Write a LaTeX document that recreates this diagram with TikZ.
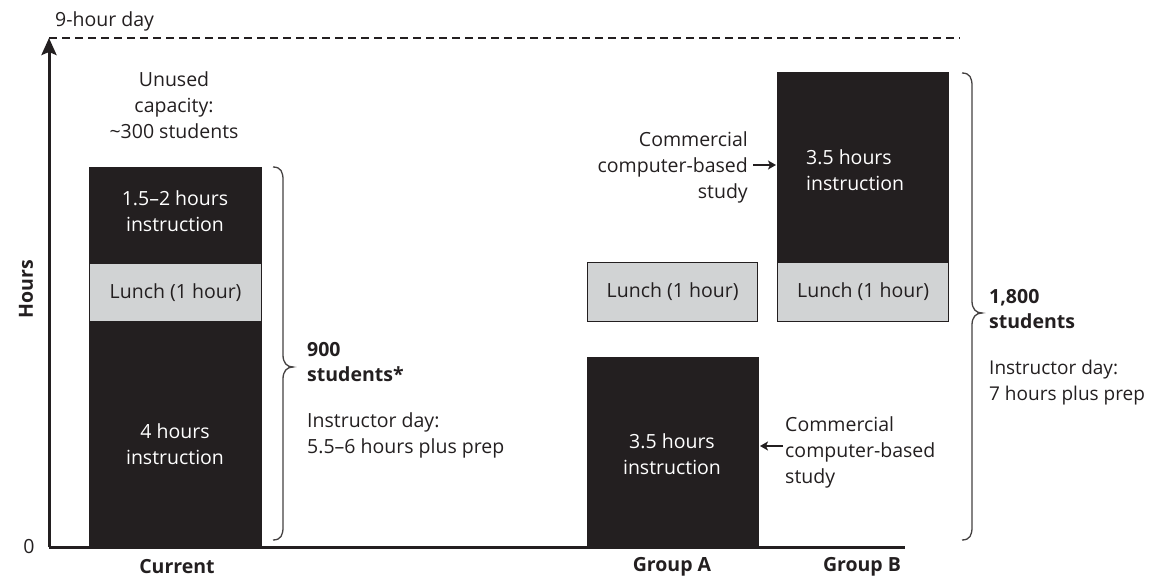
\documentclass[tikz,border=0pt]{standalone}
\usepackage{fontspec}
\setmainfont{Open Sans}
\usetikzlibrary{arrows.meta}
\definecolor{ink}{HTML}{231F20}
\definecolor{lunchgray}{HTML}{D1D3D4}
\begin{document}
\begin{tikzpicture}[x=1pt,y=-1pt,
  txt/.style={text=ink, font=\fontsize{19.5}{26}\selectfont, align=center, inner sep=0pt},
  boldtxt/.style={text=ink, font=\fontsize{19.5}{25}\selectfont\bfseries, inner sep=0pt},
  darkbar/.style={fill=ink, draw=ink, line width=0.8pt, inner sep=0pt},
  lunchbox/.style={fill=lunchgray, draw=ink, line width=1.2pt, inner sep=0pt, text=ink, font=\fontsize{19.5}{26}\selectfont},
  bracepath/.style={draw=ink!85, line width=1.3pt},
  ptr/.style={-{Stealth[length=8pt,width=9pt,inset=2pt]}, line width=1.8pt, draw=ink}]
\useasboundingbox (0,0) rectangle (1149,577);

% axes
\coordinate (origin) at (49,547);
\coordinate (ytop) at (49,38);
\coordinate (xend) at (905,547);
\coordinate (dashend) at (960,38);
\draw[ink, line width=3pt, -{Stealth[length=17pt,width=15pt,inset=3pt]}] (origin) -- (ytop);
\draw[ink, line width=3pt] (origin) -- (xend);
\draw[ink, line width=2pt, dash pattern=on 8pt off 5pt] (ytop) -- (dashend);
\node[txt, anchor=base west] (nine) at (55,27) {9-hour day};
\node[txt] (zero) at (29,547) {0};
\node[boldtxt, rotate=90] (hours) at (26,289) {Hours};

% Current
\node[darkbar, minimum width=172pt, minimum height=96pt, anchor=north west] (cur1) at (89,167) {};
\node[lunchbox, minimum width=172pt, minimum height=58pt, anchor=north west] (curl) at (89,263) {Lunch (1 hour)};
\node[darkbar, minimum width=172pt, minimum height=226pt, anchor=north west] (cur2) at (89,321) {};
\node[txt, text=white] (cur1t) at (175,211) {1.5–2 hours\\instruction};
\node[txt, text=white] (cur2t) at (175,444) {4 hours\\instruction};
\node[txt] (unused) at (174,105) {Unused\\capacity:\\\textasciitilde300 students};

% Current brace
\coordinate (cb1) at (273,167);
\coordinate (cb2) at (273,540);
\coordinate (cbt) at (293,367);
\draw[bracepath] (cb1) .. controls (281,167) and (283,172) .. (283,180)
  -- (283,355) .. controls (283,363) and (287,367) .. (cbt)
  .. controls (287,367) and (283,371) .. (283,379)
  -- (283,527) .. controls (283,535) and (281,540) .. (cb2);
\node[boldtxt, align=left, anchor=north west] (n900) at (307,342) {900\\students*};
\node[txt, align=left, anchor=north west] (instr1) at (307,412) {Instructor day:\\5.5–6 hours plus prep};

% Group A
\node[lunchbox, minimum width=170pt, minimum height=59pt, anchor=north west] (gal) at (587,262) {Lunch (1 hour)};
\node[darkbar, minimum width=171pt, minimum height=190pt, anchor=north west] (gabar) at (587,357) {};
\node[txt, text=white] (gat) at (672,454) {3.5 hours\\instruction};

% Group B
\node[darkbar, minimum width=171pt, minimum height=190pt, anchor=north west] (gbbar) at (777,72) {};
\node[lunchbox, minimum width=171pt, minimum height=59pt, anchor=north west] (gbl) at (777,262) {Lunch (1 hour)};
\node[txt, text=white, align=left, anchor=west] (gbt) at (806,170) {3.5 hours\\instruction};

% commercial labels
\node[txt, align=right, anchor=east] (comtop) at (748,167) {Commercial\\computer-based\\study};
\node[txt, align=left, anchor=west] (combot) at (785,452) {Commercial\\computer-based\\study};
\coordinate (ar1s) at (753,165);
\coordinate (ar1e) at (776,165);
\coordinate (ar2s) at (783,446);
\coordinate (ar2e) at (760,446);
\draw[ptr] (ar1s) -- (ar1e);
\draw[ptr] (ar2s) -- (ar2e);

% Group B brace
\coordinate (bb1) at (962,73);
\coordinate (bb2) at (962,540);
\coordinate (bbt) at (982,313);
\draw[bracepath] (bb1) .. controls (970,73) and (972,78) .. (972,86)
  -- (972,301) .. controls (972,309) and (976,313) .. (bbt)
  .. controls (976,313) and (972,317) .. (972,325)
  -- (972,527) .. controls (972,535) and (970,540) .. (bb2);
\node[boldtxt, align=left, anchor=north west] (n1800) at (989,289) {1,800\\students};
\node[txt, font=\fontsize{19}{26}\selectfont, align=left, anchor=north west] (instr2) at (989,360) {Instructor day:\\7 hours plus prep};

% category labels
\node[boldtxt] (lcur) at (177,567) {Current};
\node[boldtxt] (lga) at (672,567) {Group A};
\node[boldtxt] (lgb) at (862,567) {Group B};
\end{tikzpicture}
\end{document}
